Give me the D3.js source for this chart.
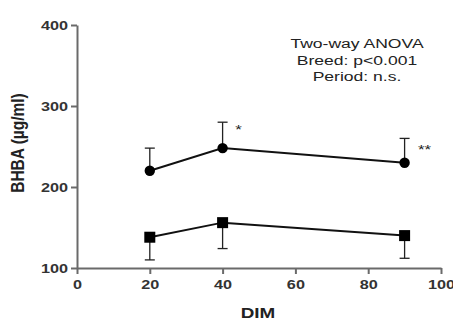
<!DOCTYPE html>
<html>
<head>
<meta charset="utf-8">
<script src="https://cdn.jsdelivr.net/npm/d3@7"></script>
<style>
  body { margin: 0; background: #fff; }
  text { font-family: "Liberation Sans", Arial, sans-serif; }
</style>
</head>
<body>
<svg id="chart" width="453" height="320"></svg>
<script>
// data
var dim = [20, 40, 90];
var circleMean = [220, 248, 230];   // upper series
var circleErr = [28, 32, 30];       // SD shown upward only
var squareMean = [138, 156, 140];   // lower series
var squareErr = [28, 32, 28];       // SD shown downward only
var xTicks = [0, 20, 40, 60, 80, 100];
var yTicks = [100, 200, 300, 400];
var stars = [{x: 40, y: 248, txt: "*"}, {x: 90, y: 230, txt: "**"}];
var note = ["Two-way ANOVA", "Breed: p<0.001", "Period: n.s."];

var svg = d3.select("#chart");
var axisCol = "#6a6a6a";
var sx = 1.3; // the original figure is stretched sideways, text too

var x = d3.scaleLinear().domain([0, 100]).range([77, 441]);
var y = d3.scaleLinear().domain([100, 400]).range([268, 25]);

// axes
var gx = svg.append("g")
  .attr("transform", "translate(0,268)")
  .call(d3.axisBottom(x).tickValues(xTicks).tickSize(6).tickSizeOuter(0));
var gy = svg.append("g")
  .attr("transform", "translate(77,0)")
  .call(d3.axisLeft(y).tickValues(yTicks).tickSize(6).tickSizeOuter(0));

[gx, gy].forEach(function(g) {
  g.select(".domain").attr("stroke", axisCol).attr("stroke-width", 2);
  g.selectAll(".tick line").attr("stroke", axisCol).attr("stroke-width", 2);
  g.selectAll(".tick text")
    .attr("fill", "#333")
    .style("font-size", "12.5px")
    .style("font-weight", "bold")
    .style("font-family", "Liberation Sans, Arial, sans-serif");
});
gx.selectAll(".tick text").attr("dy", "0.95em")
  .attr("transform", "scale(" + sx + ",1)");
gy.selectAll(".tick text").attr("x", -9 / sx)
  .attr("transform", "scale(" + sx + ",1)");

// axis titles
svg.append("text")
  .attr("transform", "translate(" + (x(50) - 1) + ",318) scale(" + sx + ",1)")
  .attr("text-anchor", "middle")
  .style("font-size", "14.5px").style("font-weight", "bold").attr("fill", "#222")
  .text("DIM");
svg.append("text")
  .attr("transform", "translate(24,143) scale(1.15,1) rotate(-90)")
  .attr("text-anchor", "middle")
  .style("font-size", "15.5px").style("font-weight", "bold").attr("fill", "#222")
  .text("BHBA (µg/ml)");

var line = d3.line()
  .x(function(d) { return x(d[0]); })
  .y(function(d) { return y(d[1]); });

function drawSeries(means, errs, dir, shape) {
  var pts = dim.map(function(d, i) { return [d, means[i], errs[i]]; });
  var g = svg.append("g");
  // error bars
  pts.forEach(function(p) {
    var end = p[1] + dir * p[2];
    g.append("line")
      .attr("x1", x(p[0])).attr("x2", x(p[0]))
      .attr("y1", y(p[1])).attr("y2", y(end))
      .attr("stroke", "#222").attr("stroke-width", 1.3);
    g.append("line")
      .attr("x1", x(p[0]) - 5).attr("x2", x(p[0]) + 5)
      .attr("y1", y(end)).attr("y2", y(end))
      .attr("stroke", "#222").attr("stroke-width", 1.3);
  });
  g.append("path")
    .attr("d", line(pts))
    .attr("fill", "none").attr("stroke", "#111").attr("stroke-width", 2);
  if (shape === "circle") {
    g.selectAll("circle").data(pts).enter().append("circle")
      .attr("cx", function(d) { return x(d[0]); })
      .attr("cy", function(d) { return y(d[1]); })
      .attr("r", 5.2).attr("fill", "#000");
  } else {
    g.selectAll("rect").data(pts).enter().append("rect")
      .attr("x", function(d) { return x(d[0]) - 5.5; })
      .attr("y", function(d) { return y(d[1]) - 5.5; })
      .attr("width", 11).attr("height", 11).attr("fill", "#000");
  }
}

drawSeries(circleMean, circleErr, 1, "circle");
drawSeries(squareMean, squareErr, -1, "square");

// significance stars
svg.selectAll(".star").data(stars).enter().append("text")
  .attr("class", "star")
  .attr("transform", function(d) {
    var tx = x(d.x) + (d.txt.length > 1 ? 20 : 16);
    var ty = y(d.y) - (d.txt.length > 1 ? 9 : 14);
    return "translate(" + tx + "," + ty + ") scale(" + sx + ",1)";
  })
  .attr("text-anchor", "middle")
  .style("font-size", "13px").attr("fill", "#222")
  .text(function(d) { return d.txt; });

// ANOVA note
svg.selectAll(".note").data(note).enter().append("text")
  .attr("class", "note")
  .attr("transform", function(d, i) {
    return "translate(357," + (48 + i * 16.5) + ") scale(" + sx + ",1)";
  })
  .attr("text-anchor", "middle")
  .style("font-size", "13.5px").attr("fill", "#222")
  .text(function(d) { return d; });
</script>
</body>
</html>
